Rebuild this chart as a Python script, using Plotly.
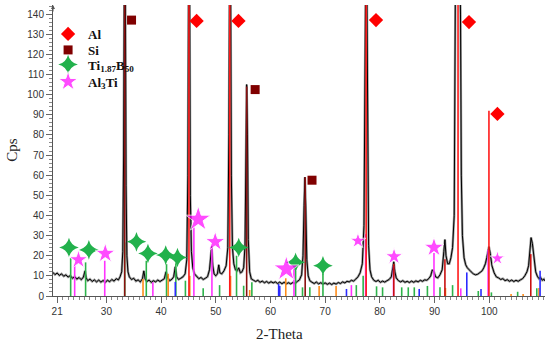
import plotly.graph_objects as go

two_theta = [20.2,20.6,21.0,21.4,21.8,22.2,22.6,23.0,23.4,23.8,24.2,24.6,25.0,25.4,25.8,26.1,26.3,26.6,27.0,27.4,
 27.8,28.2,28.6,29.0,29.4,29.8,30.2,30.6,31.0,31.4,31.8,32.2,32.5,32.8,33.0,33.15,33.3,33.45,33.6,33.75,
 33.95,34.2,34.6,35.0,35.4,35.8,36.2,36.6,36.85,37.1,37.4,37.8,38.2,38.6,39.0,39.4,39.8,40.2,40.6,40.9,
 41.2,41.6,42.0,42.3,42.6,42.85,43.2,43.6,44.0,44.4,44.7,44.9,45.05,45.2,45.35,45.55,45.8,46.1,46.5,46.9,
 47.3,47.7,48.1,48.5,48.85,49.1,49.25,49.45,49.7,50.0,50.3,50.55,50.75,51.1,51.5,51.9,52.2,52.4,52.55,52.7,
 52.85,53.05,53.3,53.6,53.9,54.2,54.5,54.8,55.1,55.35,55.5,55.65,55.8,55.95,56.2,56.5,56.9,57.3,57.7,58.1,
 58.5,58.9,59.3,59.7,60.1,60.5,60.9,61.3,61.7,62.1,62.5,62.9,63.3,63.7,64.1,64.5,64.9,65.3,65.7,65.95,
 66.15,66.3,66.45,66.65,66.9,67.2,67.6,68.0,68.4,68.8,69.2,69.6,70.0,70.4,70.8,71.2,71.6,72.0,72.4,72.8,
 73.2,73.6,74.0,74.4,74.8,75.2,75.6,76.0,76.4,76.8,77.1,77.3,77.45,77.6,77.75,77.95,78.2,78.5,78.9,79.3,
 79.7,80.1,80.5,80.9,81.3,81.7,82.1,82.35,82.55,82.75,83.0,83.4,83.8,84.2,84.6,85.0,85.4,85.8,86.2,86.6,
 87.0,87.4,87.8,88.2,88.6,89.0,89.3,89.6,89.9,90.2,90.6,91.0,91.4,91.7,91.9,92.1,92.4,92.7,93.0,93.3,
 93.6,93.8,94.0,94.3,94.6,94.75,94.9,95.1,95.4,95.7,96.0,96.3,96.7,97.1,97.5,97.9,98.3,98.7,99.0,99.3,
 99.55,99.75,99.95,100.2,100.5,100.9,101.3,101.7,102.1,102.5,102.9,103.3,103.7,104.1,104.5,104.9,105.3,105.7,106.1,106.5,
 106.9,107.2,107.45,107.65,107.9,108.2,108.5,108.8,109.1,109.4,109.7,110.0,110.2]
cps = [11.8,10.6,11.4,10.2,11.0,9.8,10.5,9.4,10.1,8.8,9.6,8.4,9.2,8.1,9.4,12.5,9.0,7.6,8.4,7.2,
 8.0,7.0,7.9,6.9,7.7,6.8,7.8,7.1,8.2,7.4,8.6,8.0,9.5,12,22,70,170,165,55,20,
 12,9.5,8.2,8.8,7.4,8.0,7.0,8.6,12.5,8.4,7.2,7.9,6.8,7.6,7.0,7.9,7.2,8.0,8.6,12.0,
 9.0,7.6,8.4,9.5,14.5,9.5,8.2,8.8,9.5,11,18,60,175,170,50,22,14,11,9.6,8.6,
 9.2,8.2,8.8,9.6,13,22,24.5,15,11,10,11,15.5,11.5,11,12.5,15,24,80,175,165,
 60,24,16,13,12.5,14,11.5,12,14,25,70,105,80,28,12,8.5,7.8,7.2,7.8,6.8,
 7.4,6.6,7.2,6.4,7.1,6.5,7.0,6.2,6.9,6.1,6.8,6.0,6.6,6.0,6.7,6.3,7.2,8.0,10.5,20,
 45,59,45,18,10,7.6,6.8,6.2,6.9,6.0,6.6,5.9,6.5,5.8,6.4,5.7,6.4,5.9,6.7,6.2,
 7.0,6.5,7.3,7.0,7.8,7.4,8.4,9.5,11.5,16,35,120,175,165,70,25,13,9.5,7.8,7.2,
 7.8,6.8,7.4,6.9,7.6,8.2,9.5,13,17,12,9,7.6,7.0,7.6,6.8,7.3,6.7,7.4,6.8,7.5,
 7.0,7.8,7.3,8.0,7.8,8.8,10,13,12,9.5,9.0,10.5,13,22,28,20,16,16,19,24,
 40,145,175,175,170,140,60,30,19,15.5,14,13,12,11,10.5,10.8,11.5,12.5,14,16,
 19,22,24.5,21,15,11.5,9.5,9.0,8.2,8.6,7.6,8.1,7.3,7.9,7.2,7.8,7.3,8.0,8.6,10,
 12,15,21,29,26,17,12,9.8,8.6,9.2,7.8,8.4,7.4,7.0]

# ---------------- reference sticks (position, height) ----------------
al_pos = [45.1, 52.56, 77.5, 94.3, 99.95]
al_h = [150, 150, 150, 150, 92]
red2_pos = [82.55, 91.9, 107.6]
red2_h = [16, 18.3, 20.8]
si_pos = [33.35, 55.65, 66.35]
si_h = [150, 104, 59]
tib_pos = [23.47, 26.2, 33.35, 37.3, 41.0, 42.7, 44.45, 47.7, 50.7, 53.8, 55.1, 56.6, 64.6, 65.86, 67.2,
           69.6, 75.7, 76.95, 79.4, 80.5, 84.0, 85.2, 86.3, 88.7, 91.0, 93.3, 98.0, 100.4, 105.2, 108.7]
tib_h = [18.8, 16.7, 26.6, 17.5, 15.8, 16.3, 7.6, 3.8, 5.4, 20, 5.1, 6.8, 12.5, 4.3, 4.3,
         11.2, 5.4, 10, 4.8, 4.3, 4.3, 4.3, 4.3, 5, 4.3, 5.4, 2.5, 1.8, 2.1, 3.8]
al3ti_pos = [24.2, 29.7, 38.5, 46.0, 49.3, 64.3, 74.8, 77.4, 82.5, 89.9, 94.8, 99.8]
al3ti_h = [15.3, 17.5, 6.8, 34, 24, 13.7, 5.4, 30.7, 15, 21.3, 3.8, 23]
orange_pos = [36.7, 41.3, 45.25, 52.7, 56.2, 62.8, 68.9, 72.0, 92.0, 104.0, 106.2, 109.1]
orange_h = [8.4, 11, 10, 10, 3, 8.8, 5, 5, 4, 1, 1, 4]
blue_pos = [42.6, 61.5, 61.7, 73.9, 87.2, 95.9, 98.5, 109.3]
blue_h = [7, 6, 5, 3.5, 3.5, 11.7, 3.5, 12.5]

# ---------------- phase markers ----------------
al_mx = [46.5, 54.15, 79.3, 96.3, 101.5]
al_my = [136.6, 136.6, 137, 136, 90.4]
si_mx = [34.6, 57.2, 67.6]
si_my = [137, 102.5, 57.5]
tib_mx = [23.16, 26.8, 35.5, 37.6, 40.85, 43.0, 54.2, 64.6, 69.6]
tib_my = [24.1, 22.9, 26.9, 21.1, 20.3, 19.1, 24.1, 16.7, 15.0]
al3ti_mx = [24.9, 29.8, 46.8, 49.9, 62.9, 76.0, 82.6, 89.9, 101.5]
al3ti_my = [18, 21.1, 38.1, 26.9, 13.4, 27.4, 19.6, 24.1, 18.7]

x_ticks = [21, 30, 40, 50, 60, 70, 80, 90, 100]
y_ticks = [0, 10, 20, 30, 40, 50, 60, 70, 80, 90, 100, 110, 120, 130, 140]


def sticks(pos, h):
    xs, ys = [], []
    for p, v in zip(pos, h):
        xs += [p, p, None]
        ys += [0, v, None]
    return xs, ys


fig = go.Figure()

# data pattern: grey halo + black line
fig.add_trace(go.Scatter(x=two_theta, y=cps, mode="lines",
                         line=dict(color="#9a9a9a", width=2.4), showlegend=False, hoverinfo="skip"))
fig.add_trace(go.Scatter(x=two_theta, y=cps, mode="lines",
                         line=dict(color="#000000", width=1), showlegend=False))

for pos, h, col, w in [(tib_pos, tib_h, "#2db34a", 1.6), (al3ti_pos, al3ti_h, "#ff33ff", 1.6),
                       (orange_pos, orange_h, "#ff8c1a", 1.6), (blue_pos, blue_h, "#2b2bff", 1.6),
                       (red2_pos, red2_h, "#c81010", 1.6), (si_pos, si_h, "#8a1010", 1.6),
                       (al_pos, al_h, "#ff1a1a", 1.6)]:
    xs, ys = sticks(pos, h)
    fig.add_trace(go.Scatter(x=xs, y=ys, mode="lines", line=dict(color=col, width=w),
                             showlegend=False, hoverinfo="skip"))

fig.add_trace(go.Scatter(x=al_mx, y=al_my, mode="markers", name="<b>Al</b>", legend="legend",
                         marker=dict(symbol="diamond", size=11, color="#ff0000")))
fig.add_trace(go.Scatter(x=si_mx, y=si_my, mode="markers", name="<b>Si</b>", legend="legend2",
                         marker=dict(symbol="square", size=9, color="#800000")))
fig.add_trace(go.Scatter(x=tib_mx, y=tib_my, mode="markers", legend="legend3",
                         name="<b>Ti<sub>1.87</sub>B<sub>50</sub></b>",
                         marker=dict(symbol="star-diamond", size=14, color="#22b14c")))
fig.add_trace(go.Scatter(x=al3ti_mx, y=al3ti_my, mode="markers", name="<b>Al<sub>3</sub>Ti</b>",
                         legend="legend4",
                         marker=dict(symbol="star", color="#ff00ff",
                                     size=[14, 15, 19, 15, 19, 12, 13, 15, 11])))

leg_font = dict(family="Liberation Serif", size=13, color="#111111")


def leg(ypos):
    return dict(x=-0.01, y=ypos, xanchor="left", yanchor="top", bgcolor="rgba(0,0,0,0)",
                font=leg_font, tracegroupgap=0)


fig.update_layout(
    width=550, height=345,
    margin=dict(l=53, r=5, t=5, b=49),
    paper_bgcolor="white", plot_bgcolor="white",
    font=dict(family="Liberation Sans", size=10, color="#333333"),
    legend=leg(0.952), legend2=leg(0.897), legend3=leg(0.847), legend4=leg(0.788),
    showlegend=True,
)
fig.update_xaxes(range=[20.24, 110.2], tickvals=x_ticks, ticktext=[str(t) for t in x_ticks],
                 showgrid=False, zeroline=False, showline=True, linecolor="#555555", linewidth=1,
                 ticks="outside", ticklen=6, tickcolor="#666666",
                 minor=dict(dtick=1, tick0=0, ticks="outside", ticklen=3, tickcolor="#888888"),
                 tickfont=dict(family="Liberation Sans", size=10, color="#333333"))
fig.update_yaxes(range=[0, 144.5], tickvals=y_ticks, showgrid=False, zeroline=False,
                 showline=True, linecolor="#555555", linewidth=1,
                 ticks="outside", ticklen=6, tickcolor="#666666",
                 minor=dict(dtick=2, tick0=0, ticks="outside", ticklen=3, tickcolor="#888888"),
                 tickfont=dict(family="Liberation Sans", size=10, color="#333333"))

fig.add_annotation(text="2-Theta", xref="paper", yref="paper", x=0.461, y=-0.13,
                   xanchor="center", yanchor="middle", showarrow=False,
                   font=dict(family="Liberation Serif", size=15, color="#222222"))
fig.add_annotation(text="Cps", xref="paper", yref="paper", x=-0.085, y=0.503,
                   xanchor="center", yanchor="middle", showarrow=False, textangle=-90,
                   font=dict(family="Liberation Serif", size=15, color="#222222"))
fig.add_annotation(text="", xref="paper", yref="paper", x=0, y=1.0, ax=0, ay=8,
                   showarrow=True, arrowhead=2, arrowsize=0.8, arrowwidth=1, arrowcolor="#555555")

fig.write_html("out.html", config={"displayModeBar": False},
               post_script="document.body.style.margin='0';document.body.style.padding='0';")
